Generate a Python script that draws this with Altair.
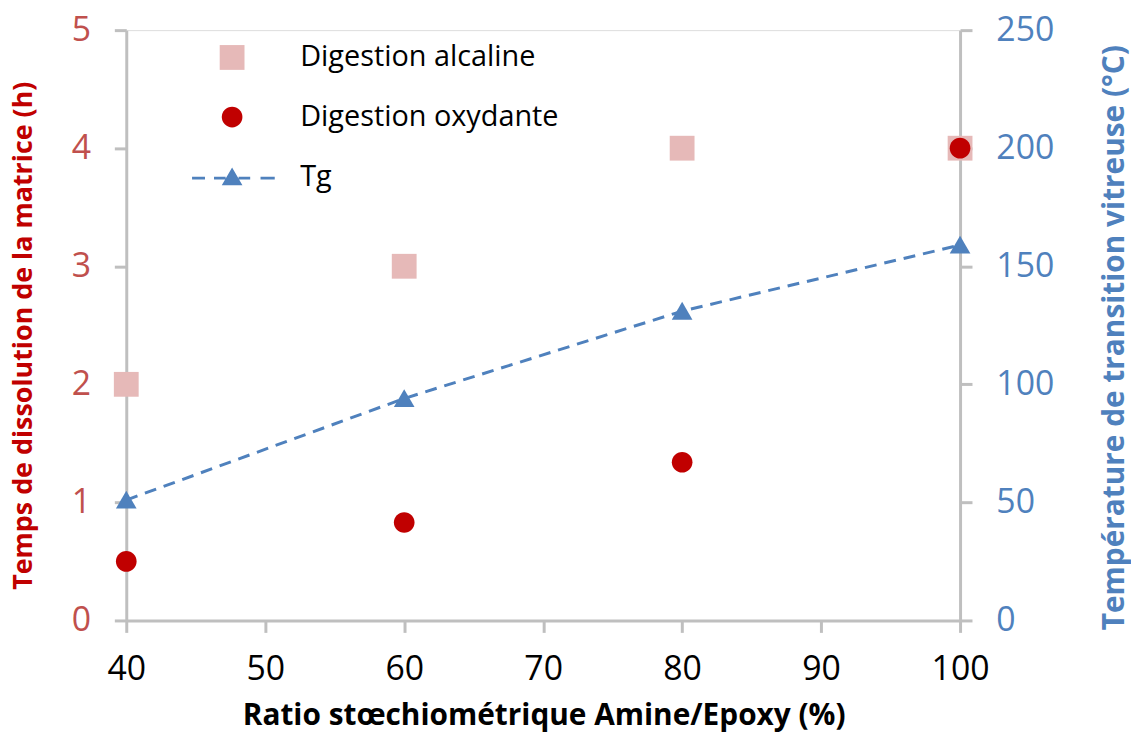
import altair as alt
import pandas as pd

# ---- data ----
ratio = [40, 60, 80, 100]
alcaline = [2.0, 3.0, 4.0, 4.0]
oxydante = [0.5, 0.83, 1.34, 4.0]
tg = [51, 94, 131, 159]

series = ["Digestion alcaline", "Digestion oxydante", "Tg"]

pts = pd.DataFrame(
    {
        "ratio": ratio + ratio,
        "temps": alcaline + oxydante,
        "serie": [series[0]] * 4 + [series[1]] * 4,
    }
)
tgdf = pd.DataFrame({"ratio": ratio, "tg": tg})

# ---- style ----
PINK = "#E6B9B8"
RED = "#C00000"
BLUE = "#4F81BD"
GREY = "#BFBFBF"
FONT = "Open Sans"

SQUARE = "M-0.96,-0.96 L0.96,-0.96 L0.96,0.96 L-0.96,0.96 Z"
CIRCLE = "M-0.8,0 A0.8,0.8 0 1,0 0.8,0 A0.8,0.8 0 1,0 -0.8,0 Z"
TRI = "M0,-0.72 L0.8,0.66 L-0.8,0.66 Z"
TG_LEG = (
    "M-3.1,0.0 L-2.1,0.0 L-2.1,0.22 L-3.1,0.22 Z "
    "M-1.4,0.0 L-0.5,0.0 L-0.5,0.22 L-1.4,0.22 Z "
    "M0.5,0.0 L1.4,0.0 L1.4,0.22 L0.5,0.22 Z "
    "M2.2,0.0 L3.3,0.0 L3.3,0.22 L2.2,0.22 Z "
    + TRI
)

SYM = 676

leg = alt.Legend(
    title=None,
    orient="none",
    legendX=92,
    legendY=13,
    padding=0,
    symbolSize=SYM,
    symbolStrokeWidth=0,
    labelFont=FONT,
    labelFontSize=29,
    labelColor="black",
    labelOffset=54,
    rowPadding=30,
    labelLimit=400,
)

x_axis = alt.Axis(
    values=[40, 50, 60, 70, 80, 90, 100],
    title="Ratio stœchiométrique Amine/Epoxy (%)",
    titleFont=FONT,
    titleFontSize=30,
    titleFontWeight="bold",
    titleColor="black",
    titleX=420,
    titleY=96,
    titleBaseline="middle",
    titleAnchor="middle",
    labelFont=FONT,
    labelFontSize=34,
    labelColor="black",
    labelPadding=20,
    tickSize=12,
    tickColor=GREY,
    tickWidth=3,
    domainColor=GREY,
    domainWidth=3,
    grid=False,
    labelFlush=False,
)
xscale = alt.Scale(domain=[40, 100], nice=False)

points = (
    alt.Chart(pts)
    .mark_point(filled=True, size=SYM, opacity=1, strokeWidth=0)
    .encode(
        x=alt.X("ratio:Q", scale=xscale, axis=x_axis),
        y=alt.Y(
            "temps:Q",
            scale=alt.Scale(domain=[0, 5], nice=False),
            axis=alt.Axis(
                values=[0, 1, 2, 3, 4, 5],
                title="Temps de dissolution de la matrice (h)",
                titleFont=FONT,
                titleFontSize=27,
                titleFontWeight="bold",
                titleColor=RED,
                titleAngle=-90,
                titleX=-103,
                titleY=307,
                titleBaseline="middle",
                titleAnchor="middle",
                labelFont=FONT,
                labelFontSize=34,
                labelColor="#C0504D",
                labelPadding=24,
                tickSize=12,
                tickColor=GREY,
                tickWidth=3,
                domainColor=GREY,
                domainWidth=3,
                grid=False,
            ),
        ),
        color=alt.Color(
            "serie:N",
            scale=alt.Scale(domain=series, range=[PINK, RED, BLUE]),
            legend=leg,
        ),
        shape=alt.Shape(
            "serie:N",
            scale=alt.Scale(domain=series, range=[SQUARE, CIRCLE, TG_LEG]),
            legend=leg,
        ),
    )
)

tg_base = alt.Chart(tgdf).encode(
    x=alt.X("ratio:Q", scale=xscale, axis=x_axis),
    y=alt.Y(
        "tg:Q",
        scale=alt.Scale(domain=[0, 250], nice=False),
        axis=alt.Axis(
            orient="right",
            values=[0, 50, 100, 150, 200, 250],
            title="Température de transition vitreuse (°C)",
            titleFont=FONT,
            titleFontSize=30,
            titleFontWeight="bold",
            titleColor=BLUE,
            titleAngle=-90,
            titleX=155,
            titleY=309,
            titleBaseline="middle",
            titleAnchor="middle",
            labelFont=FONT,
            labelFontSize=34,
            labelColor=BLUE,
            labelPadding=24,
            tickSize=12,
            tickColor=GREY,
            tickWidth=3,
            domainColor=GREY,
            domainWidth=3,
            grid=False,
        ),
    ),
)

tg_line = tg_base.mark_line(color=BLUE, strokeWidth=3, strokeDash=[12, 8])
tg_pts = tg_base.mark_point(
    filled=True, shape=TRI, size=SYM, color=BLUE, opacity=1, strokeWidth=0
)

chart = (
    alt.layer(alt.layer(tg_line, tg_pts), points)
    .resolve_scale(y="independent")
    .properties(
        width=839,
        height=594,
        autosize=alt.AutoSizeParams(type="none"),
        padding={"left": 119, "top": 20, "right": 172, "bottom": 115},
    )
    .configure_view(strokeWidth=0)
    .configure(background="white")
)

chart.save("out.html", embed_options={"renderer": "svg", "actions": False})
